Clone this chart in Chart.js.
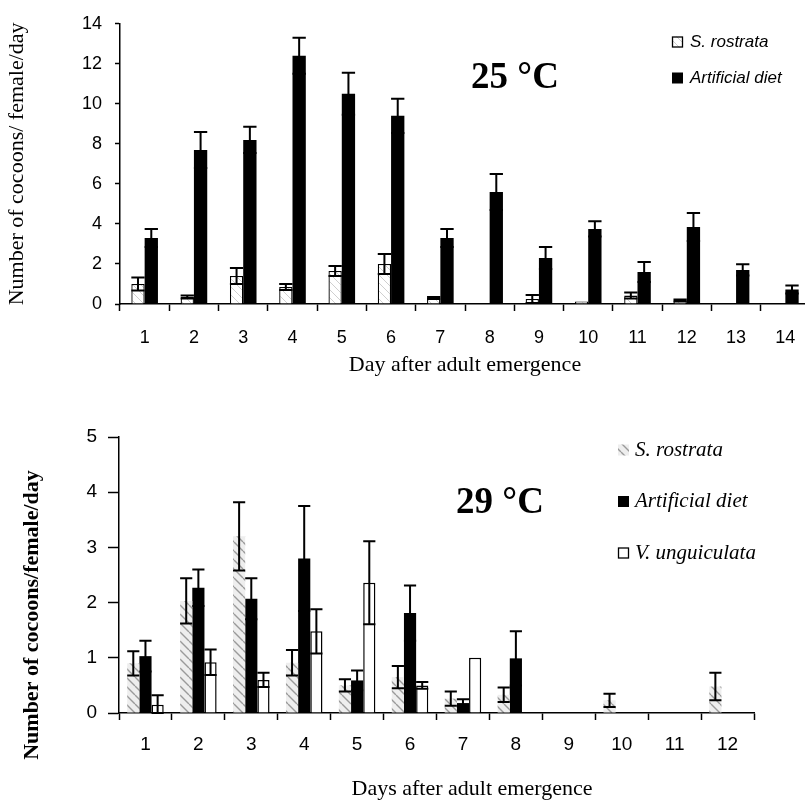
<!DOCTYPE html>
<html><head><meta charset="utf-8">
<script src="https://cdn.jsdelivr.net/npm/chart.js@4.4.0/dist/chart.umd.min.js"></script>
<style>
html,body{margin:0;padding:0;background:#fff;overflow:hidden;width:805px;height:805px;position:relative;}
#c1{position:absolute;left:0;top:0;}
#c2{position:absolute;left:0;top:380px;}
</style></head><body>
<canvas id="c1" width="812" height="380"></canvas>
<canvas id="c2" width="805" height="425"></canvas>
<script>
// ---------- DATA ----------
const days25 = ['1','2','3','4','5','6','7','8','9','10','11','12','13','14'];
const srostrata25 = [1.0, 0.35, 1.4, 0.85, 1.65, 2.0, 0.3, 0, 0.25, 0.12, 0.42, 0.18, 0, 0];
const srostrata25Err = [0.33, 0.08, 0.4, 0.15, 0.25, 0.5, 0.05, 0, 0.2, 0, 0.15, 0.05, 0, 0];
const artificial25 = [3.3, 7.7, 8.2, 12.4, 10.5, 9.4, 3.3, 5.6, 2.3, 3.75, 1.6, 3.85, 1.7, 0.72];
const artificial25Err = [0.45, 0.9, 0.65, 0.9, 1.05, 0.85, 0.45, 0.9, 0.55, 0.38, 0.5, 0.7, 0.28, 0.2];
const yMax25 = 14, yStep25 = 2;

const days29 = ['1','2','3','4','5','6','7','8','9','10','11','12'];
const srostrata29 = [0.9, 2.03, 3.2, 0.91, 0.5, 0.65, 0.26, 0.33, 0, 0.23, 0, 0.48];
const srostrata29Err = [0.22, 0.41, 0.62, 0.23, 0.11, 0.2, 0.13, 0.13, 0, 0.12, 0, 0.25];
const artificial29 = [1.03, 2.27, 2.07, 2.8, 0.59, 1.81, 0.18, 0.99, 0, 0, 0, 0];
const artificial29Err = [0.28, 0.33, 0.37, 0.95, 0.18, 0.5, 0.07, 0.49, 0, 0, 0, 0];
const unguiculata29 = [0.15, 0.92, 0.6, 1.48, 2.36, 0.5, 1.0, 0, 0, 0, 0, 0];
const unguiculata29Err = [0.17, 0.23, 0.13, 0.4, 0.75, 0.06, 0, 0, 0, 0, 0, 0];
const yMax29 = 5, yStep29 = 1;

// ---------- STYLE HELPERS ----------
function hatch(bg, fg, size, lw){
  const c = document.createElement('canvas'); c.width = c.height = size;
  const g = c.getContext('2d');
  g.fillStyle = bg; g.fillRect(0,0,size,size);
  g.strokeStyle = fg; g.lineWidth = lw; g.beginPath();
  for (const x0 of [-size, 0, size]) { g.moveTo(x0, 0); g.lineTo(x0 + size, size); }
  g.stroke();
  return g.createPattern(c, 'repeat');
}
const SERIF = '"Liberation Serif","Times New Roman",serif';
const SANS = '"Liberation Sans",Arial,sans-serif';

const errorBars = {
  id: 'errorBars',
  afterDatasetsDraw(chart, args, o) {
    const ctx = chart.ctx, ys = chart.scales.y;
    chart.data.datasets.forEach((ds, i) => {
      if (!ds.errors) return;
      const meta = chart.getDatasetMeta(i);
      meta.data.forEach((el, j) => {
        const e = ds.errors[j]; if (!e) return;
        const v = ds.data[j];
        const x = el.x, half = el.width / 2 * o.capRatio;
        const yt = ys.getPixelForValue(v + e), yb = ys.getPixelForValue(Math.max(0, v - e));
        ctx.save(); ctx.strokeStyle = '#000'; ctx.lineWidth = o.lineWidth;
        ctx.beginPath();
        ctx.moveTo(x, yt); ctx.lineTo(x, yb);
        ctx.moveTo(x - half, yt); ctx.lineTo(x + half, yt);
        ctx.moveTo(x - half, yb); ctx.lineTo(x + half, yb);
        ctx.stroke(); ctx.restore();
      });
    });
  }
};

const insetLegend = {
  id: 'insetLegend',
  afterDraw(chart, args, o) {
    const ctx = chart.ctx;
    ctx.save();
    chart.data.datasets.forEach((ds, i) => {
      const x = o.x, y = o.y + i * o.gap;
      ctx.fillStyle = ds.backgroundColor;
      ctx.fillRect(x, y - o.box / 2, o.box, o.box);
      if (ds.borderWidth) { ctx.strokeStyle = '#000'; ctx.lineWidth = 1.3; ctx.strokeRect(x + 0.5, y - o.box / 2 + 0.5, o.box - 1, o.box - 1); }
      ctx.fillStyle = '#000'; ctx.font = o.font; ctx.textBaseline = 'middle'; ctx.textAlign = 'left';
      ctx.fillText(ds.label, x + o.box + o.textGap, y);
    });
    ctx.font = o.titleFont; ctx.textAlign = 'center'; ctx.textBaseline = 'middle';
    ctx.fillText(o.title, o.titleX, o.titleY);
    ctx.restore();
  }
};

// axis titles placed at explicit positions (used for the lower panel, whose titles are off-centre)
const placedTitles = {
  id: 'placedTitles',
  afterDraw(chart, args, o) {
    const ctx = chart.ctx;
    (o.items || []).forEach(t => {
      ctx.save();
      ctx.translate(t.x, t.y); ctx.rotate(t.rotation || 0);
      ctx.font = t.font; ctx.fillStyle = '#000'; ctx.textAlign = 'center'; ctx.textBaseline = 'middle';
      ctx.fillText(t.text, 0, 0);
      ctx.restore();
    });
  }
};

function axisOpts(cfg) {
  return {
    x: {
      grid: { display: true, drawOnChartArea: false, drawTicks: true, tickLength: 7, tickColor: '#000', tickWidth: 1.5, offset: true },
      border: { display: true, color: '#000', width: 1.5 },
      ticks: { color: '#000', font: { family: SANS, size: cfg.xTickSize }, padding: cfg.xTickPad, maxRotation: 0, autoSkip: false },
      title: cfg.xTitle,
      afterFit: s => { s.height = cfg.xHeight; }
    },
    y: {
      min: 0, max: cfg.yMax,
      grid: { display: true, drawOnChartArea: false, drawTicks: true, tickLength: cfg.yTickLen, tickColor: '#000', tickWidth: 1.5 },
      border: { display: true, color: '#000', width: 1.5 },
      ticks: { stepSize: cfg.yStep, color: '#000', font: { family: SANS, size: cfg.yTickSize }, padding: cfg.yTickPad },
      title: cfg.yTitle,
      afterFit: s => { s.width = cfg.yWidth; }
    }
  };
}

// ---------- TOP CHART (25 °C) ----------
new Chart(document.getElementById('c1'), {
  type: 'bar',
  data: {
    labels: days25,
    datasets: [
      { label: 'S. rostrata', data: srostrata25, errors: srostrata25Err,
        backgroundColor: hatch('#ffffff', '#cfcfcf', 8, 1), borderColor: '#000', borderWidth: 1.3 },
      { label: 'Artificial diet', data: artificial25, errors: artificial25Err,
        backgroundColor: '#000', borderWidth: 0 }
    ]
  },
  options: {
    responsive: false, animation: false, devicePixelRatio: 1,
    categoryPercentage: 0.54, barPercentage: 1.0,
    layout: { padding: { top: 19, right: 2, bottom: 2, left: 0 } },
    scales: axisOpts({
      xTickSize: 18, xTickPad: 16, xHeight: 74,
      yMax: yMax25, yStep: yStep25, yTickLen: 5, yTickSize: 18, yTickPad: 13, yWidth: 120,
      xTitle: { display: true, text: 'Day after adult emergence', color: '#000', font: { family: SERIF, size: 22 }, padding: { top: 0, bottom: 0 } },
      yTitle: { display: true, text: 'Number of cocoons/ female/day', color: '#000', font: { family: SERIF, size: 22 }, padding: { top: 4, bottom: 0 } }
    }),
    plugins: {
      legend: { display: false }, tooltip: { enabled: false },
      errorBars: { lineWidth: 2, capRatio: 1 },
      insetLegend: { x: 672, y: 42, gap: 36, box: 11, textGap: 7, font: 'italic 17px ' + SANS,
        title: '25 °C', titleX: 515, titleY: 78, titleFont: 'bold 37px ' + SERIF }
    }
  },
  plugins: [errorBars, insetLegend]
});

// ---------- BOTTOM CHART (29 °C) ----------
new Chart(document.getElementById('c2'), {
  type: 'bar',
  data: {
    labels: days29,
    datasets: [
      { label: 'S. rostrata', data: srostrata29, errors: srostrata29Err,
        backgroundColor: hatch('#eeeeee', '#9a9a9a', 9, 1.4), borderWidth: 0 },
      { label: 'Artificial diet', data: artificial29, errors: artificial29Err,
        backgroundColor: '#000', borderWidth: 0 },
      { label: 'V. unguiculata', data: unguiculata29, errors: unguiculata29Err,
        backgroundColor: '#ffffff', borderColor: '#000', borderWidth: 1.5 }
    ]
  },
  options: {
    responsive: false, animation: false, devicePixelRatio: 1,
    categoryPercentage: 0.69, barPercentage: 1.0,
    layout: { padding: { top: 57, right: 51, bottom: 5, left: 0 } },
    scales: axisOpts({
      xTickSize: 19, xTickPad: 13, xHeight: 87,
      yMax: yMax29, yStep: yStep29, yTickLen: 11, yTickSize: 19, yTickPad: 11, yWidth: 119,
      xTitle: { display: false }, yTitle: { display: false }
    }),
    plugins: {
      legend: { display: false }, tooltip: { enabled: false },
      errorBars: { lineWidth: 2, capRatio: 1 },
      insetLegend: { x: 618, y: 70, gap: 51.5, box: 11, textGap: 6, font: 'italic 21px ' + SERIF,
        title: '29 °C', titleX: 500, titleY: 123, titleFont: 'bold 37px ' + SERIF },
      placedTitles: { items: [
        { text: 'Days after adult emergence', x: 472, y: 409, font: '22px ' + SERIF },
        { text: 'Number of cocoons/female/day', x: 32, y: 235, rotation: -Math.PI / 2, font: 'bold 22px ' + SERIF }
      ] }
    }
  },
  plugins: [errorBars, insetLegend, placedTitles]
});
</script>
</body></html>
